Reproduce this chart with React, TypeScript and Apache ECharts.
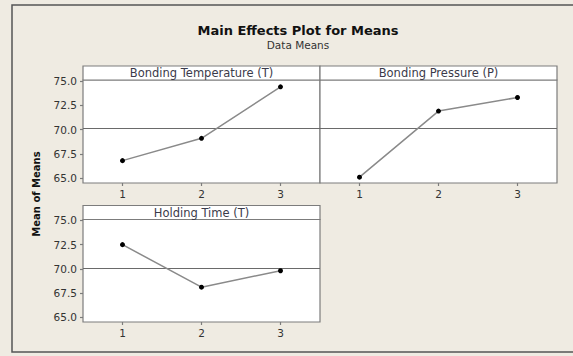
import React, { useEffect, useRef } from "react";
import * as echarts from "echarts";

// Factor levels and the mean response at each level
const levels = [1, 2, 3];
const panelTitles = ["Bonding Temperature (T)", "Bonding Pressure (P)", "Holding Time (T)"];
const temperatureMeans = [66.8, 69.1, 74.4];
const pressureMeans = [65.1, 71.9, 73.3];
const holdingMeans = [72.5, 68.1, 69.8];
const yTicks = [65.0, 67.5, 70.0, 72.5, 75.0];

const FONT = "DejaVu Sans";
const W = 573;
const H = 356;

// Panel boxes (plot area below a 14px header strip)
const PANELS = [
  { left: 83, top: 80, width: 237, height: 103, showY: true },
  { left: 320, top: 80, width: 237, height: 103, showY: false },
  { left: 83, top: 219.5, width: 237, height: 102.5, showY: true },
];
const HEADER_H = 14;

export default function App() {
  const ref = useRef<HTMLDivElement>(null);

  useEffect(() => {
    document.body.style.margin = "0";
    if (!ref.current) return;
    const chart = echarts.init(ref.current, null, { renderer: "svg" });

    const allSeries = [temperatureMeans, pressureMeans, holdingMeans];
    const flat = allSeries.flat();
    const grandMean = flat.reduce((a, b) => a + b, 0) / flat.length;

    const grids = PANELS.map((p) => ({
      left: p.left,
      top: p.top,
      width: p.width,
      height: p.height,
      show: true,
      backgroundColor: "#ffffff",
      borderColor: "#7c7c7c",
      borderWidth: 1.2,
      containLabel: false,
    }));

    const xAxes = PANELS.map((_, i) => ({
      type: "value",
      gridIndex: i,
      min: 0.5,
      max: 3.5,
      axisLine: { show: false },
      splitLine: { show: false },
      axisTick: {
        show: true,
        customValues: levels,
        length: 3,
        lineStyle: { color: "#7c7c7c", width: 1.2 },
      },
      axisLabel: {
        customValues: levels,
        fontFamily: FONT,
        fontSize: 10.5,
        color: "#333333",
        margin: 5,
      },
    }));

    const yAxes = PANELS.map((p, i) => ({
      type: "value",
      gridIndex: i,
      min: 64.5,
      max: 75.1,
      axisLine: { show: false },
      splitLine: { show: false },
      axisTick: {
        show: p.showY,
        customValues: yTicks,
        length: 3,
        lineStyle: { color: "#7c7c7c", width: 1.2 },
      },
      axisLabel: {
        show: p.showY,
        customValues: yTicks,
        formatter: (v: number) => v.toFixed(1),
        fontFamily: FONT,
        fontSize: 10.5,
        color: "#333333",
        margin: 6,
      },
    }));

    const series = allSeries.map((vals, i) => ({
      type: "line",
      xAxisIndex: i,
      yAxisIndex: i,
      data: levels.map((lv, k) => [lv, vals[k]]),
      symbol: "circle",
      symbolSize: 5,
      itemStyle: { color: "#000000" },
      lineStyle: { color: "#8a8a8a", width: 1.5 },
      z: 3,
      markLine: {
        silent: true,
        symbol: "none",
        label: { show: false },
        lineStyle: { color: "#6a6a6a", width: 1, type: "solid" },
        data: [{ yAxis: grandMean }],
        z: 2,
      },
    }));

    const headers = PANELS.flatMap((p, i) => [
      {
        type: "rect",
        shape: { x: p.left, y: p.top - HEADER_H, width: p.width, height: HEADER_H },
        style: { fill: "#ffffff", stroke: "#7c7c7c", lineWidth: 1.2 },
        z: 10,
      },
      {
        type: "text",
        x: p.left + p.width / 2,
        y: p.top - HEADER_H / 2,
        style: {
          text: panelTitles[i],
          fontFamily: FONT,
          fontSize: 11.5,
          fill: "#3a3a4a",
          align: "center",
          verticalAlign: "middle",
        },
        z: 11,
      },
    ]);

    chart.setOption({
      animation: false,
      backgroundColor: "#efebe2",
      grid: grids,
      xAxis: xAxes,
      yAxis: yAxes,
      series,
      graphic: [
        {
          type: "rect",
          shape: { x: 12, y: 5, width: W + 40, height: 347 },
          style: { fill: "none", stroke: "#555555", lineWidth: 1.5 },
          z: 0,
        },
        {
          type: "text",
          x: 298,
          y: 30,
          style: {
            text: "Main Effects Plot for Means",
            fontFamily: FONT,
            fontSize: 13,
            fontWeight: "bold",
            fill: "#111111",
            align: "center",
            verticalAlign: "middle",
          },
        },
        {
          type: "text",
          x: 298,
          y: 45,
          style: {
            text: "Data Means",
            fontFamily: FONT,
            fontSize: 10.5,
            fill: "#333333",
            align: "center",
            verticalAlign: "middle",
          },
        },
        {
          type: "text",
          x: 36,
          y: 194,
          rotation: Math.PI / 2,
          style: {
            text: "Mean of Means",
            fontFamily: FONT,
            fontSize: 10,
            fontWeight: "bold",
            fill: "#111111",
            align: "center",
            verticalAlign: "middle",
          },
        },
        ...headers,
      ],
    });

    return () => chart.dispose();
  }, []);

  return <div ref={ref} style={{ width: W, height: H }} />;
}
